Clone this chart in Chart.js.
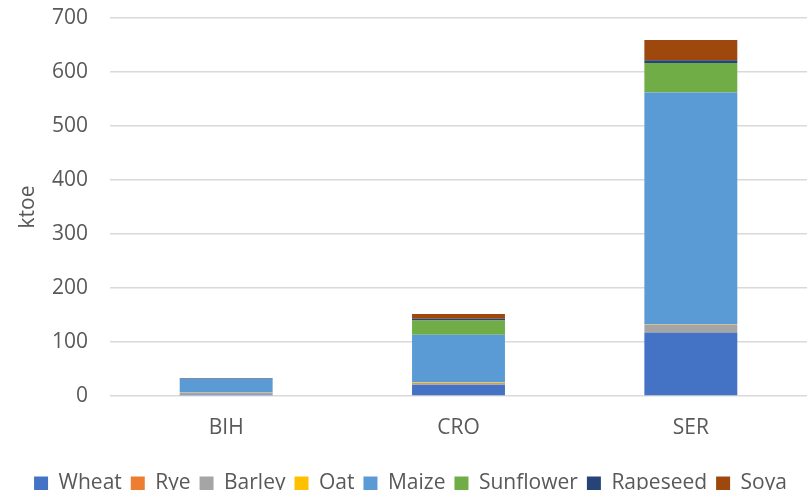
<!DOCTYPE html>
<html>
<head>
<meta charset="utf-8">
<script src="https://cdn.jsdelivr.net/npm/chart.js@4/dist/chart.umd.min.js"></script>
<style>
  html, body { margin: 0; padding: 0; background: #ffffff; }
  #wrap { width: 808px; height: 490px; }
</style>
</head>
<body>
<div id="wrap"><canvas id="chart" width="808" height="490"></canvas></div>
<script>
// Countries on the category axis
const countries = ['BIH', 'CRO', 'SER'];

// Energy potential per crop, ktoe (BIH, CRO, SER)
const wheat     = [3,   21,   117.5];
const rye       = [0.3, 0.5,  0.5];
const barley    = [3,   2.5,  14.5];
const oat       = [0.5, 1.5,  1];
const maize     = [24.5, 88,  428.5];
const sunflower = [0.3, 26.5, 54.7];
const rapeseed  = [1,   3,    5];
const soya      = [0.5, 9,    37.6];

// Value axis ticks
const yTicks = [0, 100, 200, 300, 400, 500, 600, 700];

const crops = [
  ['Wheat', wheat, '#4472C4'],
  ['Rye', rye, '#ED7D31'],
  ['Barley', barley, '#A5A5A5'],
  ['Oat', oat, '#FFC000'],
  ['Maize', maize, '#5B9BD5'],
  ['Sunflower', sunflower, '#70AD47'],
  ['Rapeseed', rapeseed, '#264478'],
  ['Soya', soya, '#9E480E']
];

const FONT = '"Open Sans", "Liberation Sans", sans-serif';
const TEXT = '#595959';
const PLOT_BOTTOM = 396;
const PAD_BOTTOM = -14;
const PAD_LEFT = 14;

new Chart(document.getElementById('chart'), {
  type: 'bar',
  data: {
    labels: countries,
    datasets: crops.map(([name, values, color]) => ({
      label: name,
      data: values,
      backgroundColor: color,
      borderWidth: 0,
      categoryPercentage: 1,
      barPercentage: 0.4
    }))
  },
  options: {
    responsive: false,
    animation: false,
    layout: { padding: { top: 18, right: 1, left: PAD_LEFT, bottom: PAD_BOTTOM } },
    plugins: {
      tooltip: { enabled: false },
      legend: {
        position: 'bottom',
        labels: {
          boxWidth: 14,
          boxHeight: 14,
          padding: 9,
          color: TEXT,
          font: { family: FONT, size: 21, lineHeight: 1.2 }
        }
      }
    },
    scales: {
      x: {
        stacked: true,
        grid: { display: false, drawTicks: false },
        border: { display: false },
        ticks: { color: TEXT, padding: 19, font: { family: FONT, size: 21 } },
        afterFit(scale) {
          scale.height = scale.chart.height - PLOT_BOTTOM - scale.chart.legend.height - PAD_BOTTOM;
        }
      },
      y: {
        stacked: true,
        min: 0,
        max: 700,
        afterBuildTicks(scale) {
          scale.ticks = yTicks.map(v => ({ value: v }));
        },
        grid: { color: '#d9d9d9', lineWidth: 1.4, drawTicks: false },
        border: { display: false },
        ticks: { color: TEXT, padding: 22, font: { family: FONT, size: 21 } },
        title: {
          display: true,
          text: 'ktoe',
          color: TEXT,
          padding: { top: 1, bottom: 0 },
          font: { family: FONT, size: 21, lineHeight: 1.2 }
        },
        afterFit(scale) {
          scale.width = 110 - PAD_LEFT;
          // the plot area edges are fixed by the layout padding, not by label overhang
          scale.paddingTop = 0;
          scale.paddingBottom = 0;
        }
      }
    }
  }
});
</script>
</body>
</html>
